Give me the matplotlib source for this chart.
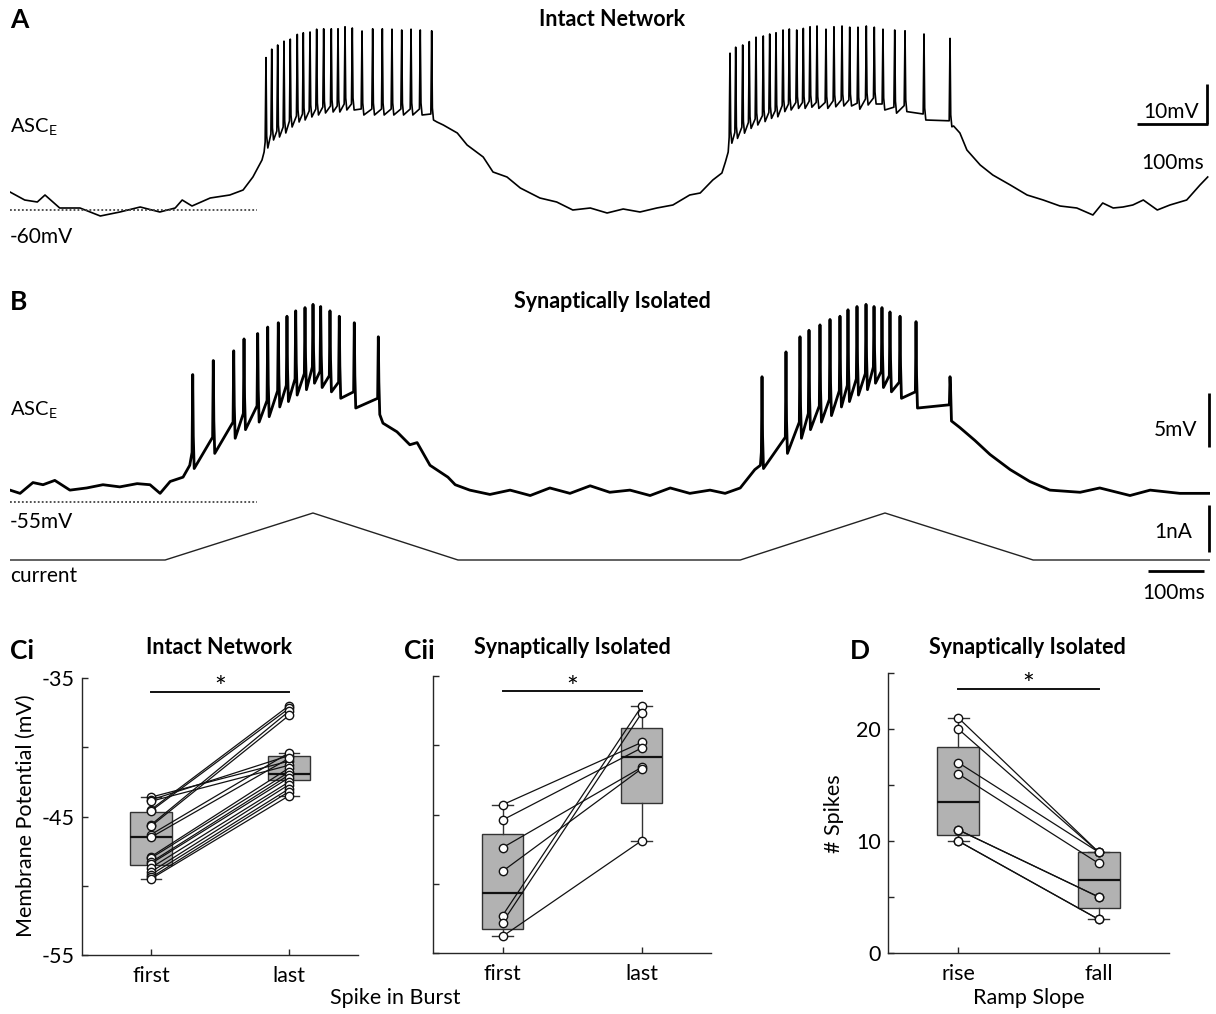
import matplotlib
matplotlib.use("Agg")
import matplotlib.pyplot as plt
import numpy as np

plt.rcParams['font.family'] = ['Lato', 'DejaVu Sans']

# ---------------- data ----------------
# Panel A (intact network), time in ms, membrane potential in mV
A_base_t = [0, 21, 39, 50, 71, 100, 129, 157, 186, 214, 236, 246, 260, 286, 314, 333, 347, 360, 363,
            610, 619, 639, 653, 676, 690, 710, 729, 757, 781, 804, 829, 853, 876, 900, 924, 947, 971,
            986, 1004, 1017, 1022, 1026,
            1348, 1357, 1367, 1386, 1404, 1429, 1453, 1476, 1500, 1524, 1547, 1561, 1576, 1590, 1604,
            1619, 1639, 1657, 1681, 1700, 1711]
A_base_v = [-55.5, -57.5, -58, -56.25, -59.5, -59.5, -61.5, -60.5, -59.25, -60.5, -59.5, -57.5, -59, -57,
            -56.25, -55, -51.75, -47.5, -45.5,
            -38, -38.75, -40.75, -43.75, -46.75, -50.5, -51.75, -54.5, -57, -58, -60, -59.5, -60.75,
            -59.75, -60.5, -59.5, -58.75, -56.25, -55.75, -52.5, -50.75, -48, -45.5,
            -39, -40.75, -45, -48.75, -51.25, -53.75, -56.25, -57.5, -59, -59.5, -61.25, -58.25, -59.5,
            -59.25, -58.75, -57.5, -60, -58.75, -57.5, -53.75, -51.75]
A_spike_t = [365.7, 373.9, 382.4, 391.4, 400.4, 410.4, 419, 428.6, 438.1, 448.1, 459, 468.6, 478.6, 489,
             502.9, 518.1, 531.9, 545.7, 559.6, 572.9, 586.1, 602.4,
             1028.6, 1036.7, 1046.7, 1056.1, 1065.7, 1076.1, 1085.3, 1094.3, 1104.3, 1113.3, 1123.9,
             1133.3, 1142.9, 1152.9, 1165.7, 1177.1, 1188.6, 1199.6, 1211.4, 1223.3, 1234.7, 1247.1,
             1263.9, 1278.6, 1305.7, 1342.9]
A_spike_peak = [-21.9, -19.8, -18.75, -17.8, -17.3, -16.1, -15.7, -15.5, -14.8, -14.7, -14.7, -14.7, -14.2,
                -14.5, -15.25, -14.7, -14.7, -14.8, -15, -14.8, -15, -15.2,
                -20.8, -19.3, -18.75, -17.9, -16.8, -16.5, -16, -15.7, -15, -14.75, -15, -14.6, -14.2, -14,
                -14.8, -14.2, -14, -14.3, -14.3, -14, -14.3, -14.8, -15, -15.2, -16, -17.1]
A_spike_trough = [-44.5, -42.5, -41.75, -40.75, -39.25, -38, -37.5, -36.75, -36.25, -35.75, -35.5, -35.5,
                  -35, -35, -36.25, -36.25, -36.25, -36.25, -36.25, -36.25, -36.25, -37.5,
                  -43.3, -42.1, -40.8, -39.6, -38.75, -37.9, -37.1, -36.7, -35.4, -35, -34.6, -34.6, -34.3,
                  -34.6, -34.6, -34.2, -34, -34, -34.8, -33.75, -33.5, -35, -35.8, -35.4, -37.5, -39.2]

# Panel B (synaptically isolated), time in ms, potential in mV
B_base_t = [0, 18, 41, 59, 80, 107, 137, 166, 196, 227, 250, 268, 286, 309, 321,
            666, 691, 714, 727, 750, 782, 795, 821, 857, 893, 929, 964, 1000, 1036, 1071, 1107, 1143,
            1179, 1214, 1250, 1277, 1304, 1330, 1340,
            1696, 1723, 1750, 1786, 1821, 1857, 1911, 1946, 2000, 2036, 2089, 2143]
B_base_v = [-53.9, -54.2, -53.2, -53.4, -53, -53.9, -53.7, -53.4, -53.6, -53.3, -53.4, -54.2, -53.1, -52.7,
            -51.6,
            -47.7, -48.5, -49.7, -49.5, -51.6, -52.7, -53.4, -53.9, -54.3, -53.9, -54.4, -53.7, -54.2,
            -53.5, -54.1, -53.9, -54.4, -53.7, -54.2, -53.9, -54.2, -53.7, -52, -51.6,
            -48.1, -49.3, -50.6, -52, -53.1, -53.9, -54.1, -53.7, -54.4, -53.9, -54.2, -54.2]
B_spike_t = [326.3, 363, 399.5, 417.9, 442.3, 460.2, 479.1, 494.6, 510.2, 526.8, 541.1, 554.8, 571.4, 588,
             614.8, 657.7,
             1342.9, 1385.7, 1410.7, 1426.8, 1446.4, 1464.3, 1482.1, 1496.4, 1512.5, 1528.6, 1542.9,
             1557.1, 1571.4, 1589.3, 1617.9, 1678.6]
B_spike_peak = [-43.2, -41.9, -41, -39.9, -39.4, -38.8, -38.4, -37.8, -37.3, -37, -36.7, -36.9, -37.3, -37.8,
                -38.4, -39.7,
                -43.4, -41.1, -39.7, -39.1, -38.6, -38.1, -37.8, -37.2, -36.9, -36.7, -36.9, -37, -37.4,
                -37.8, -38.3, -43.4]
B_spike_trough = [-51.9, -50.5, -49.1, -48.3, -47.6, -47.1, -46.2, -45.7, -45.1, -44.6, -44, -44.4, -44.8,
                  -45.4, -46.3, -46.9,
                  -51.9, -50.5, -49.1, -48.3, -47.6, -47, -46.2, -45.7, -45.1, -44.6, -44, -44.4, -44.8,
                  -45.4, -46.3, -47.5]
# injected current ramp (nA)
cur_t = [0, 277, 541, 800, 1304, 1562.5, 1827, 2143]
cur_i = [0, 0, 1, 0, 0, 1, 0, 0]

# Panel Ci: intact network, membrane potential (mV) of first / last spike in burst
ci_first = [-43.6, -43.8, -43.9, -44.5, -44.6, -45.6, -45.7, -46.3, -46.5, -47.9, -48.0, -48.3, -48.4,
            -48.7, -49.0, -49.2, -49.4, -49.5]
ci_last = [-41.0, -40.6, -41.3, -37.0, -37.2, -37.4, -37.7, -40.4, -40.8, -41.5, -41.8, -42.0, -42.2,
           -42.5, -42.7, -43.0, -43.2, -43.5]
ci_box = {"med": [-46.5, -41.9], "q1": [-48.5, -42.4], "q3": [-44.7, -40.6],
          "lo": [-49.5, -43.5], "hi": [-43.6, -40.4]}

# Panel Cii: synaptically isolated
cii_first = [-44.3, -45.4, -47.4, -49.1, -52.3, -52.8, -53.8]
cii_last = [-39.8, -40.2, -41.6, -41.7, -37.2, -37.7, -46.9]
cii_box = {"med": [-50.7, -40.85], "q1": [-53.3, -44.2], "q3": [-46.4, -38.75],
           "lo": [-53.8, -46.9], "hi": [-44.3, -37.2]}

# Panel D: number of spikes on rising vs falling ramp
d_rise = [21, 20, 17, 16, 11, 11, 10, 10]
d_fall = [9, 9, 9, 8, 5, 5, 3, 3]
d_box = {"med": [13.5, 6.5], "q1": [10.5, 4.0], "q3": [18.4, 9.0], "lo": [10, 3], "hi": [21, 9]}

c_categories = ["first", "last"]
d_categories = ["rise", "fall"]

# ---------------- figure ----------------
W, H = 1216, 1014
fig = plt.figure(figsize=(W / 100, H / 100), dpi=100)


def px_axes(x0, y0, x1, y1):
    return fig.add_axes([x0 / W, 1 - y1 / H, (x1 - x0) / W, (y1 - y0) / H])


def build_trace(bt, bv, st, sp, sr):
    pts = list(zip(bt, bv))
    for t, p, r in zip(st, sp, sr):
        pts += [(t - 1.2, r + 1.5), (t, p), (t + 1.0, r + 3.0), (t + 2.6, r)]
    pts.sort(key=lambda q: q[0])
    return [q[0] for q in pts], [q[1] for q in pts]


# Panel A trace
axA = px_axes(10, 20, 1210, 250)
axA.set_xlim(0, 1200 / 0.7)
axA.set_ylim(-70, -12.5)
axA.axis('off')
tA, vA = build_trace(A_base_t, A_base_v, A_spike_t, A_spike_peak, A_spike_trough)
axA.plot(tA, vA, color='black', lw=1.2)
axA.plot([0, 353], [-60, -60], color='#444444', lw=1.3, ls=(0, (1, 1.2)))

# Panel B trace
axB = px_axes(10, 290, 1210, 520)
axB.set_xlim(0, 1200 / 0.56)
axB.set_ylim(-55 + (502 - 520) / 10.8, -55 + (502 - 290) / 10.8)
axB.axis('off')
tB, vB = build_trace(B_base_t, B_base_v, B_spike_t, B_spike_peak, B_spike_trough)
axB.plot(tB, vB, color='black', lw=2.0)
axB.plot([0, 441], [-55, -55], color='#444444', lw=1.3, ls=(0, (1, 1.2)))

axI = px_axes(10, 500, 1210, 590)
axI.set_xlim(0, 1200 / 0.56)
axI.set_ylim((560 - 590) / 47, (560 - 500) / 47)
axI.axis('off')
axI.plot(cur_t, cur_i, color='#222222', lw=1.0)


def style_box_axes(ax, ylim, yticks, ylabels, cats):
    ax.set_xlim(0.5, 2.5)
    ax.set_ylim(*ylim)
    for s in ['top', 'right']:
        ax.spines[s].set_visible(False)
    for s in ['left', 'bottom']:
        ax.spines[s].set_color('#262626')
        ax.spines[s].set_linewidth(1.0)
    ax.set_yticks(yticks)
    ax.set_yticklabels(ylabels)
    ax.set_xticks([1, 2])
    ax.set_xticklabels(cats)
    ax.tick_params(direction='in', length=4, width=1, color='#262626', labelsize=15.5, pad=5)
    ax.tick_params(axis='x', pad=8)


def draw_box(ax, box, a, b, sig_y, star_off):
    stats = []
    for i in range(2):
        stats.append(dict(med=box["med"][i], q1=box["q1"][i], q3=box["q3"][i],
                          whislo=box["lo"][i], whishi=box["hi"][i], fliers=[]))
    ax.bxp(stats, positions=[1, 2], widths=0.3, patch_artist=True, showfliers=False,
           capwidths=0.15,
           boxprops=dict(facecolor='#b2b2b2', edgecolor='#333333', lw=1.0),
           medianprops=dict(color='#111111', lw=1.6),
           whiskerprops=dict(color='#333333', lw=1.0),
           capprops=dict(color='#333333', lw=1.0), manage_ticks=False)
    for f, l in zip(a, b):
        ax.plot([1, 2], [f, l], color='#111111', lw=0.9, zorder=3)
    ax.plot([1] * len(a), a, 'o', mfc='white', mec='#111111', mew=1.0, ms=6, zorder=4, ls='none')
    ax.plot([2] * len(b), b, 'o', mfc='white', mec='#111111', mew=1.0, ms=6, zorder=4, ls='none')
    ax.plot([1, 2], [sig_y, sig_y], color='#111111', lw=1.4, clip_on=False)
    ax.text(1.5, sig_y + star_off, '*', ha='center', va='bottom', fontsize=20)


axCi = px_axes(82, 678, 358, 955)
style_box_axes(axCi, (-55, -35), [-55, -50, -45, -40, -35], ['-55', '', '-45', '', '-35'], c_categories)
draw_box(axCi, ci_box, ci_first, ci_last, -36.0, -0.75)

axCii = px_axes(433, 676, 711, 953)
style_box_axes(axCii, (-55, -35), [-55, -50, -45, -40, -35], ['', '', '', '', ''], c_categories)
draw_box(axCii, cii_box, cii_first, cii_last, -36.1, -0.75)

axD = px_axes(888, 673, 1169, 953)
style_box_axes(axD, (0, 25), [0, 5, 10, 15, 20, 25], ['0', '', '10', '', '20', ''], d_categories)
draw_box(axD, d_box, d_rise, d_fall, 23.6, -0.9)

# ---------------- overlay: labels, scale bars ----------------
ov = fig.add_axes([0, 0, 1, 1], zorder=10)
ov.set_xlim(0, W)
ov.set_ylim(H, 0)
ov.axis('off')
ov.patch.set_alpha(0)


def T(x, y, s, size, ha='left', weight='normal', **kw):
    ov.text(x, y, s, fontsize=size, ha=ha, va='center', fontweight=weight, **kw)


T(10, 20, 'A', 19, weight='bold')
T(612, 20, 'Intact Network', 15.5, ha='center', weight='bold')
T(10, 302, 'B', 19, weight='bold')
T(612, 302, 'Synaptically Isolated', 15.5, ha='center', weight='bold')
T(10, 127, r'ASC$_{\mathregular{E}}$', 14.5)
T(10, 410, r'ASC$_{\mathregular{E}}$', 14.5)
T(10, 237, '-60mV', 15)
T(10, 522, '-55mV', 15)
T(10, 576, 'current', 15)

# scale bars panel A
ov.plot([1207, 1207], [84, 124], color='black', lw=2, solid_capstyle='butt')
ov.plot([1137, 1208], [124, 124], color='black', lw=2, solid_capstyle='butt')
T(1199, 112, '10mV', 15, ha='right')
T(1173, 163, '100ms', 15, ha='center')
# scale bars panel B
ov.plot([1209, 1209], [393, 447], color='black', lw=2, solid_capstyle='butt')
T(1197, 430, '5mV', 15, ha='right')
ov.plot([1209, 1209], [505, 552], color='black', lw=2, solid_capstyle='butt')
T(1192, 532, '1nA', 15, ha='right')
ov.plot([1148, 1204], [571, 571], color='black', lw=2, solid_capstyle='butt')
T(1174, 593, '100ms', 15, ha='center')

# panel C / D titles
T(10, 651, 'Ci', 19, weight='bold')
T(219, 648, 'Intact Network', 15.5, ha='center', weight='bold')
T(404, 651, 'Cii', 19, weight='bold')
T(572, 648, 'Synaptically Isolated', 15.5, ha='center', weight='bold')
T(850, 651, 'D', 19, weight='bold')
T(1027, 648, 'Synaptically Isolated', 15.5, ha='center', weight='bold')

ov.text(26, 816, 'Membrane Potential (mV)', fontsize=15.5, rotation=90, ha='center', va='center')
ov.text(834, 814, '# Spikes', fontsize=15.5, rotation=90, ha='center', va='center')
T(395, 998, 'Spike in Burst', 15.5, ha='center')
T(1029, 998, 'Ramp Slope', 15.5, ha='center')

fig.savefig('out.png', dpi=100)
